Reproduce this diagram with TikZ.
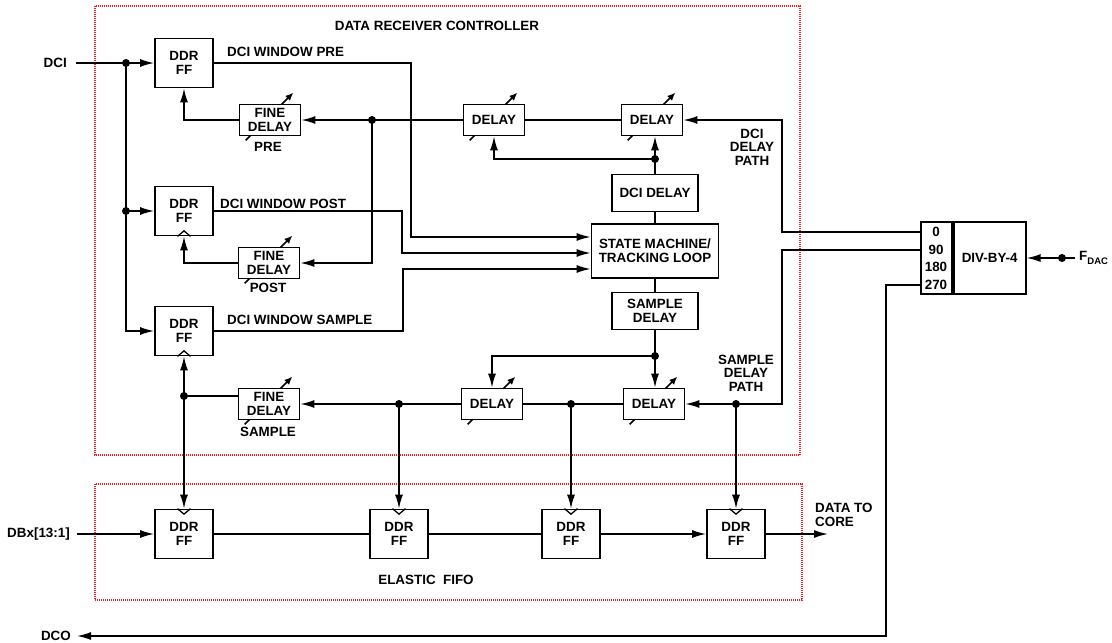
\documentclass[tikz,border=0pt]{standalone}
\usepackage{fontspec}
\setmainfont{Liberation Sans}
\usetikzlibrary{arrows.meta,calc,backgrounds}
\definecolor{zonered}{RGB}{236,28,36}
\tikzset{
  blk/.style={draw,fill=white,line width=1.7pt,inner sep=0pt,align=center,font=\bfseries\fontsize{13.4}{13.6}\selectfont},
  ddrff/.style={blk,minimum width=58pt,minimum height=49pt},
  dly/.style={blk,minimum width=61pt,minimum height=31pt},
  lbl/.style={inner sep=0pt,align=center,font=\bfseries\fontsize{13.4}{13.6}\selectfont},
  wire/.style={line width=1.6pt},
  arr/.style={wire,-{Latex[length=14pt,width=8pt]}},
  adj/.style={line width=1.7pt,-{Latex[length=8pt,width=7pt]}},
  zone/.style={zonered,dash pattern=on 1pt off 1pt,line width=1.4pt}
}
\begin{document}
\begin{tikzpicture}[x=1pt,y=-1pt]
\useasboundingbox (0,0) rectangle (1112,643);
\node[ddrff] (F1) at (184,63) {DDR\\FF};
\node[ddrff] (F2) at (184,211) {DDR\\FF};
\node[ddrff] (F3) at (184,331) {DDR\\FF};
\node[dly] (FD1) at (270,120) {FINE\\DELAY};
\node[dly] (FD2) at (269,263) {FINE\\DELAY};
\node[dly] (FD3) at (269,404) {FINE\\DELAY};
\node[lbl] at (268,147) {PRE};
\node[lbl] at (268,288) {POST};
\node[lbl] at (268,432) {SAMPLE};
\node[dly] (D1) at (494,120) {DELAY};
\node[dly] (D2) at (652,120) {DELAY};
\node[dly] (D3) at (492,404) {DELAY};
\node[dly] (D4) at (654,404) {DELAY};
\node[blk,minimum width=86pt,minimum height=37pt] (DD) at (655,193) {DCI DELAY};
\node[blk,minimum width=127pt,minimum height=54pt] (SM) at (655,251) {STATE MACHINE/\\TRACKING LOOP};
\node[blk,minimum width=86pt,minimum height=37pt] (SD) at (655,311) {SAMPLE\\DELAY};
\node[blk,minimum width=31pt,minimum height=72pt] (PH) at (936.5,258) {};
\node[blk,minimum width=72pt,minimum height=72pt,anchor=west] (DIV) at (PH.east) {DIV-BY-4};
\foreach \p/\y in {0/232,90/250,180/267,270/285} \node[lbl] (p\p) at (936,\y) {\p};
\node[ddrff] (Q1) at (184,534) {DDR\\FF};
\node[ddrff] (Q2) at (399,534) {DDR\\FF};
\node[ddrff] (Q3) at (571,534) {DDR\\FF};
\node[ddrff] (Q4) at (736,534) {DDR\\FF};
\node[lbl] at (437,26) {DATA RECEIVER CONTROLLER};
\node[lbl] at (426,580) {ELASTIC~ FIFO};
\node[lbl,anchor=east] (dci) at (67,63) {DCI};
\node[lbl,anchor=east] (dbx) at (70,534) {DBx[13:1]};
\node[lbl,anchor=east] (dco) at (71,636) {DCO};
\node[lbl,anchor=west] (fdac) at (1079,258) {F\raisebox{-.45ex}{\fontsize{9.5}{9.5}\selectfont DAC}};
\node[lbl,align=left,anchor=west] (core) at (815,515) {DATA TO\\CORE};
\node[lbl,anchor=base west] at (227,56) {DCI WINDOW PRE};
\node[lbl,anchor=base west] at (220,208) {DCI WINDOW POST};
\node[lbl,anchor=base west] at (227,324) {DCI WINDOW SAMPLE};
\node[lbl] at (752,147) {DCI\\DELAY\\PATH};
\node[lbl] at (746,373) {SAMPLE\\DELAY\\PATH};
\coordinate (s1) at ($(SM.west)+(0,-14)$);
\coordinate (s2) at ($(SM.west)+(0,2)$);
\coordinate (s3) at ($(SM.west)+(0,18)$);
\coordinate (j1) at (126,63);
\coordinate (j3) at (372,120);
\coordinate (j4) at (184,396);
\coordinate (j5) at (655,159);
\coordinate (j6) at (655,356);
\coordinate (j7) at (736,404);
\coordinate (j8) at (571,404);
\coordinate (j9) at (399,404);
\coordinate (j10) at (1062,258);
\draw[arr] ([xshift=9pt]dci.east) -- (F1.west);
\draw[arr] (j1 |- F2.west) coordinate (j2) -- (F2.west);
\draw[arr] (j1) |- (F3.west);
\draw[arr] (F1.east) -- (411,63) |- (s1);
\draw[arr] (F2.east) -- (402,211) |- (s2);
\draw[arr] (F3.east) -- (403,331) |- (s3);
\draw[wire] (D2.west) -- (D1.east);
\draw[arr] (D1.west) -- (FD1.east);
\draw[arr] (j3) |- (FD2.east);
\draw[arr] (FD1.west) -| (F1.south);
\draw[arr] (FD2.west) -| (F2.south);
\draw[wire] ($(FD3.west)+(0,-8)$) -- (j4);
\draw[arr] (j4) -- (F3.south);
\draw[arr] (j4) -- (Q1.north);
\draw[wire] (DD.north) -- (j5);
\draw[arr] (j5) -- (j5 |- D2.south);
\draw[arr] (j5) -| (D1.south);
\draw[wire] (DD.south) -- (SM.north);
\draw[wire] (SM.south) -- (SD.north);
\draw[wire] (SD.south) -- (j6);
\draw[arr] (j6) -- (j6 |- D4.north);
\draw[arr] (j6) -| (D3.north);
\draw[arr] (p0 -| PH.west) -- (782,232) |- (D2.east);
\draw[arr] (p90 -| PH.west) -- (782,250) |- (D4.east);
\draw[wire] (D4.west) -- (D3.east);
\draw[arr] (D3.west) -- (FD3.east);
\draw[arr] (j7) -- (Q4.north);
\draw[arr] (j8) -- (Q3.north);
\draw[arr] (j9) -- (Q2.north);
\draw[arr] (p270 -| PH.west) -- (886,285) |- ([xshift=6pt]dco.east);
\draw[arr] ([xshift=-4pt]fdac.west) -- (DIV.east);
\draw[arr] ([xshift=7pt]dbx.east) -- (Q1.west);
\draw[wire] (Q1.east) -- (Q2.west);
\draw[wire] (Q2.east) -- (Q3.west);
\draw[arr] (Q3.east) -- (Q4.west);
\draw[arr] (Q4.east) -- (828,534);
\foreach \f in {F2,F3} \draw[line width=1.3pt] ($(\f.south)+(-6.5,0)$) -- ++(6.5,-5.5) -- ++(6.5,5.5);
\foreach \f in {Q1,Q2,Q3,Q4} \draw[line width=1.3pt] ($(\f.north)+(-6.5,0)$) -- ++(6.5,5.5) -- ++(6.5,-5.5);
\foreach \j in {j1,j2,j3,j4,j5,j6,j7,j8,j9,j10} \fill (\j) circle (4pt);
\begin{scope}[on background layer]
\draw[zone] (95,6) rectangle (800,455);
\draw[zone] (95,484) rectangle (802,600);
\foreach \d in {FD1,FD2,FD3,D1,D2,D3,D4} \draw[adj] ($(\d.south west)+(7,4)$) -- ($(\d.north east)+(-8,-11)$);
\end{scope}
\end{tikzpicture}
\end{document}
